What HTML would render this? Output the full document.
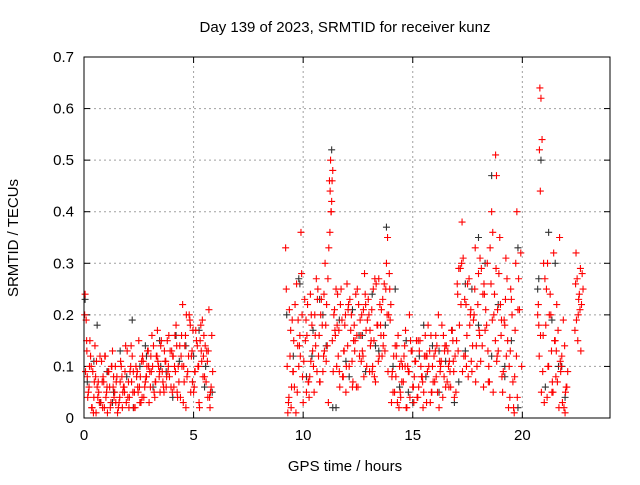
<!DOCTYPE html>
<html><head><meta charset="utf-8"><style>
body{margin:0;background:#fff;font-family:"Liberation Sans",sans-serif}
svg text{font-family:"Liberation Sans",sans-serif;font-size:15px;fill:#000}
</style></head><body>
<svg id="c" width="640" height="480">
<text x="345" y="32" text-anchor="middle">Day 139 of 2023, SRMTID for receiver kunz</text>
<text x="345" y="471" text-anchor="middle">GPS time / hours</text>
<text transform="translate(18,238) rotate(-90)" text-anchor="middle">SRMTID / TECUs</text>
<g id="grid"></g>
<g id="ticks"></g>
<g id="pts"></g>
<rect x="84" y="57" width="526" height="361" fill="none" stroke="#000"/>
</svg>
<script>
const xTicks=[0,5,10,15,20];
const yTicks=[0,0.1,0.2,0.3,0.4,0.5,0.6,0.7];
const yTickLabels=["0","0.1","0.2","0.3","0.4","0.5","0.6","0.7"];
const redT=[0.05,0.1,0.15,0.2,0.3,0.35,0.4,0.5,0.6,0.7,0.8,0.9,1.0,1.1,1.2,1.3,1.4,1.5,1.6,1.7,1.8,1.9,2.0,2.1,2.2,2.3,2.4,2.5,2.6,2.7,2.8,2.9,3.0,3.1,3.2,3.3,3.4,3.5,3.6,3.7,3.8,3.9,4.0,4.1,4.2,4.3,4.4,4.5,4.6,4.7,4.8,4.9,5.0,5.1,5.2,5.3,5.4,5.5,5.6,5.7,5.8,
0.25,0.45,0.65,0.85,1.05,1.25,1.45,1.65,1.85,2.05,2.25,2.45,2.65,2.85,3.05,3.25,3.45,3.65,3.85,4.05,4.25,4.45,4.65,4.85,5.05,5.25,5.45,5.65,
0.12,0.55,0.95,1.35,1.75,2.15,2.55,2.95,3.35,3.75,4.15,4.55,4.95,5.35,5.75,
9.2,9.3,9.4,9.5,9.6,9.7,9.8,9.9,10.0,10.1,10.2,10.3,10.4,10.5,10.6,10.7,10.8,10.9,11.0,11.1,11.2,11.25,11.3,11.35,11.4,11.5,11.6,11.7,11.8,11.9,12.0,12.1,12.2,12.3,12.4,12.5,12.6,12.7,12.8,12.9,13.0,13.1,13.2,13.3,13.4,13.5,13.6,13.7,13.8,13.9,
9.35,9.55,9.75,9.95,10.15,10.35,10.55,10.75,10.95,11.15,11.45,11.65,11.85,12.05,12.25,12.45,12.65,12.85,13.05,13.25,13.45,13.65,13.85,
9.45,9.85,10.25,10.65,11.05,11.55,11.95,12.35,12.75,13.15,13.55,13.95,11.22,11.28,11.32,
14.0,14.1,14.2,14.3,14.4,14.5,14.6,14.7,14.8,14.9,15.0,15.1,15.2,15.3,15.4,15.5,15.6,15.7,15.8,15.9,16.0,16.1,16.2,16.3,16.4,16.5,16.6,16.7,16.8,16.9,
14.05,14.25,14.45,14.65,14.85,15.05,15.25,15.45,15.65,15.85,16.05,16.25,16.45,16.65,16.85,
17.0,17.1,17.2,17.3,17.4,17.5,17.6,17.7,17.8,17.9,18.0,18.1,18.2,18.3,18.4,18.5,18.6,18.7,18.8,18.9,19.0,19.1,19.2,19.3,19.4,19.5,19.6,19.7,19.8,
17.05,17.25,17.45,17.65,17.85,18.05,18.25,18.45,18.65,18.85,18.82,18.78,19.05,19.25,19.45,19.65,19.75,
20.7,20.75,20.8,20.85,20.9,21.0,21.1,21.2,21.3,21.4,21.5,21.6,21.7,21.8,21.9,22.0,
20.95,21.15,21.35,21.55,21.75,21.95,20.82,20.78,
22.4,22.45,22.5,22.55,22.6,22.65,22.7];
const redV=[0.24,0.19,0.08,0.05,0.12,0.02,0.09,0.14,0.06,0.03,0.11,0.07,0.04,0.09,0.02,0.13,0.05,0.08,0.03,0.1,0.06,0.14,0.04,0.09,0.12,0.05,0.08,0.15,0.03,0.11,0.07,0.13,0.09,0.16,0.05,0.12,0.1,0.14,0.07,0.11,0.15,0.08,0.13,0.06,0.18,0.1,0.04,0.22,0.14,0.08,0.2,0.12,0.05,0.17,0.1,0.15,0.19,0.08,0.13,0.21,0.06,
0.1,0.04,0.07,0.02,0.06,0.1,0.03,0.07,0.05,0.02,0.09,0.06,0.04,0.08,0.12,0.07,0.09,0.05,0.1,0.12,0.05,0.16,0.02,0.18,0.09,0.03,0.12,0.04,
0.15,0.01,0.12,0.08,0.02,0.14,0.03,0.1,0.17,0.06,0.16,0.1,0.07,0.13,0.02,
0.33,0.01,0.12,0.19,0.06,0.26,0.1,0.36,0.03,0.15,0.22,0.08,0.18,0.05,0.27,0.12,0.2,0.09,0.3,0.14,0.46,0.5,0.42,0.48,0.2,0.25,0.12,0.22,0.08,0.18,0.26,0.1,0.2,0.15,0.24,0.06,0.19,0.13,0.28,0.1,0.2,0.15,0.25,0.07,0.18,0.22,0.12,0.26,0.3,0.2,
0.04,0.09,0.14,0.2,0.05,0.11,0.16,0.07,0.24,0.03,0.17,0.09,0.13,0.21,0.06,0.16,0.11,0.22,0.17,0.08,0.27,0.14,0.35,
0.02,0.16,0.07,0.23,0.11,0.18,0.05,0.13,0.21,0.09,0.16,0.25,0.36,0.4,0.46,
0.22,0.05,0.14,0.03,0.1,0.07,0.12,0.02,0.09,0.15,0.06,0.11,0.04,0.13,0.08,0.05,0.12,0.18,0.03,0.1,0.07,0.14,0.02,0.11,0.16,0.06,0.13,0.09,0.17,0.04,
0.08,0.12,0.04,0.1,0.2,0.03,0.15,0.07,0.12,0.05,0.16,0.09,0.13,0.06,0.11,
0.15,0.29,0.22,0.31,0.12,0.26,0.18,0.09,0.2,0.14,0.28,0.11,0.24,0.17,0.3,0.07,0.4,0.2,0.29,0.13,0.22,0.05,0.18,0.27,0.1,0.23,0.02,0.3,0.21,
0.24,0.38,0.1,0.21,0.33,0.16,0.26,0.07,0.36,0.12,0.47,0.51,0.19,0.31,0.13,0.08,0.4,
0.2,0.18,0.64,0.62,0.54,0.03,0.25,0.1,0.2,0.05,0.15,0.07,0.35,0.12,0.02,0.06,
0.16,0.3,0.05,0.13,0.09,0.01,0.44,0.52,
0.17,0.32,0.27,0.2,0.24,0.29,0.22];
/* extra regularly-sampled red series: [start hour, step hours] + values */
const redSegStart=[0.03,0.07,9.23,9.27,14.03,14.07,17.03,17.07,20.73,20.77,22.43,22.47];
const redSegStep=0.1;
const redSeg0=[0.2,0.13,0.06,0.1,0.01,0.08,0.04,0.12,0.07,0.02,0.05,0.09,0.03,0.06,0.1,0.01,0.04,0.08,0.06,0.03,0.07,0.1,0.05,0.02,0.09,0.06,0.11,0.04,0.08,0.13,0.06,0.1,0.04,0.12,0.08,0.15,0.06,0.11,0.09,0.13,0.05,0.1,0.14,0.07,0.12,0.03,0.16,0.09,0.19,0.13,0.06,0.15,0.1,0.18,0.08,0.14,0.11,0.04,0.16];
const redSeg1=[0.09,0.04,0.15,0.02,0.07,0.11,0.05,0.03,0.08,0.12,0.01,0.06,0.1,0.04,0.07,0.02,0.11,0.05,0.09,0.13,0.04,0.07,0.02,0.1,0.05,0.08,0.12,0.06,0.1,0.03,0.09,0.14,0.07,0.11,0.05,0.09,0.13,0.08,0.16,0.06,0.12,0.09,0.04,0.14,0.1,0.07,0.2,0.12,0.05,0.17,0.09,0.14,0.02,0.11,0.16,0.07,0.13,0.05,0.09];
const redSeg2=[0.25,0.03,0.17,0.09,0.22,0.05,0.14,0.28,0.11,0.19,0.07,0.24,0.13,0.2,0.09,0.16,0.23,0.12,0.18,0.27,0.44,0.15,0.21,0.1,0.17,0.25,0.08,0.2,0.14,0.23,0.11,0.18,0.06,0.22,0.16,0.12,0.24,0.19,0.09,0.21,0.15,0.26,0.11,0.18,0.23,0.13,0.2,0.28];
const redSeg3=[0.1,0.21,0.06,0.15,0.01,0.19,0.12,0.08,0.23,0.16,0.04,0.2,0.1,0.14,0.25,0.07,0.18,0.13,0.22,0.33,0.4,0.09,0.16,0.24,0.06,0.19,0.13,0.1,0.22,0.17,0.07,0.15,0.25,0.12,0.2,0.08,0.17,0.23,0.14,0.1,0.27,0.18,0.12,0.21,0.16,0.25,0.09,0.19];
const redSeg4=[0.03,0.12,0.08,0.16,0.05,0.1,0.14,0.02,0.09,0.13,0.06,0.11,0.04,0.15,0.08,0.12,0.03,0.1,0.16,0.07,0.13,0.05,0.11,0.18,0.08,0.14,0.1,0.06,0.15,0.12];
const redSeg5=[0.09,0.05,0.14,0.02,0.11,0.07,0.17,0.1,0.04,0.13,0.08,0.15,0.06,0.1,0.02,0.16,0.09,0.13,0.05,0.12,0.08,0.2,0.1,0.04,0.14,0.07,0.11,0.17,0.09,0.05];
const redSeg6=[0.26,0.18,0.3,0.12,0.22,0.08,0.2,0.14,0.25,0.1,0.17,0.29,0.06,0.21,0.13,0.33,0.19,0.24,0.11,0.28,0.16,0.09,0.23,0.15,0.04,0.2,0.01,0.12,0.27,0.32];
const redSeg7=[0.13,0.29,0.09,0.23,0.16,0.27,0.11,0.19,0.07,0.22,0.31,0.14,0.24,0.18,0.1,0.26,0.05,0.15,0.21,0.35,0.08,0.19,0.12,0.02,0.25,0.07,0.17,0.04,0.21,0.1];
const redSeg8=[0.22,0.16,0.09,0.27,0.04,0.2,0.13,0.32,0.08,0.17,0.11,0.03,0.14,0.06];
const redSeg9=[0.12,0.05,0.3,0.18,0.1,0.24,0.07,0.15,0.22,0.02,0.1,0.19,0.05,0.09];
const redSeg10=[0.26,0.15,0.21,0.28];
const redSeg11=[0.19,0.23,0.13,0.25];
const blackT=[0.05,0.6,1.3,2.2,2.8,3.5,4.2,5.0,5.5,9.8,10.4,10.9,11.3,11.5,12.1,12.7,13.3,13.8,14.2,14.8,15.5,16.2,16.9,17.4,18.0,18.6,19.2,19.8,20.7,20.85,21.2,21.5,21.8];
const blackV=[0.23,0.18,0.03,0.19,0.14,0.1,0.16,0.12,0.06,0.27,0.12,0.2,0.52,0.02,0.08,0.16,0.14,0.37,0.25,0.05,0.18,0.13,0.03,0.26,0.35,0.47,0.1,0.33,0.25,0.5,0.36,0.3,0.1];
const blackSegStart=[0.15,9.25,14.1,20.75];
const blackSegStep=0.3;
const blackSeg0=[0.07,0.11,0.03,0.09,0.05,0.13,0.08,0.02,0.1,0.12,0.06,0.15,0.09,0.04,0.11,0.14,0.07,0.17,0.1,0.05];
const blackSeg1=[0.2,0.12,0.26,0.08,0.17,0.23,0.14,0.02,0.19,0.11,0.21,0.16,0.09,0.24,0.13,0.18];
const blackSeg2=[0.1,0.06,0.15,0.03,0.12,0.08,0.14,0.05,0.11,0.17,0.07,0.13,0.25,0.18,0.3,0.12,0.22,0.08,0.15,0.02];
const blackSeg3=[0.27,0.06,0.19,0.1,0.04];

const X0=84,X1=610,Y0=418,Y1=57;
const xs=t=>X0+t/24*(X1-X0);
const ys=v=>Y0-v/0.7*(Y0-Y1);
const NS="http://www.w3.org/2000/svg";
const grid=document.getElementById('grid'),ticks=document.getElementById('ticks'),pts=document.getElementById('pts');
function mk(tag,attrs,parent){const e=document.createElementNS(NS,tag);for(const k in attrs)e.setAttribute(k,attrs[k]);parent.appendChild(e);return e;}
xTicks.forEach(t=>{const x=xs(t);
 if(t>0){const g=mk('line',{x1:x,x2:x,y1:Y0,y2:Y1,stroke:'#a0a0a0','stroke-dasharray':'2,3'},grid);
 
 }
 const l=mk('text',{x:x,y:Y0+22,'text-anchor':'middle'},ticks);l.textContent=t;
 
 
 mk('line',{x1:x,x2:x,y1:Y0,y2:Y0-6,stroke:'#000'},ticks);mk('line',{x1:x,x2:x,y1:Y1,y2:Y1+6,stroke:'#000'},ticks);});
yTicks.forEach((v,i)=>{const y=ys(v);
 if(v>0&&v<0.7){const g=mk('line',{x1:X0,x2:X1,y1:y,y2:y,stroke:'#a0a0a0','stroke-dasharray':'2,3'},grid);
 
 }
 const l=mk('text',{x:X0-10,y:y+5,'text-anchor':'end'},ticks);l.textContent=yTickLabels[i];
 
 
 mk('line',{x1:X0,x2:X0+6,y1:y,y2:y,stroke:'#000'},ticks);mk('line',{x1:X1,x2:X1-6,y1:y,y2:y,stroke:'#000'},ticks);});
function plus(t,v,col,name){const x=xs(t),y=ys(v);
 const p=mk('path',{d:`M${x-3.5} ${y}H${x+3.5}M${x} ${y-3.5}V${y+3.5}`,stroke:col,'stroke-width':1.1,fill:'none'},pts);
 
 }
const blackSegs=[blackSeg0,blackSeg1,blackSeg2,blackSeg3];
const redSegs=[redSeg0,redSeg1,redSeg2,redSeg3,redSeg4,redSeg5,redSeg6,redSeg7,redSeg8,redSeg9,redSeg10,redSeg11];
blackT.forEach((t,i)=>plus(t,blackV[i],'#333','black-point'));
blackSegs.forEach((s,k)=>s.forEach((v,i)=>plus(blackSegStart[k]+i*blackSegStep,v,'#333','black-point')));
redT.forEach((t,i)=>plus(t,redV[i],'#ff0000','red-point'));
redSegs.forEach((s,k)=>s.forEach((v,i)=>plus(redSegStart[k]+i*redSegStep,v,'#ff0000','red-point')));
</script>
</body></html>
